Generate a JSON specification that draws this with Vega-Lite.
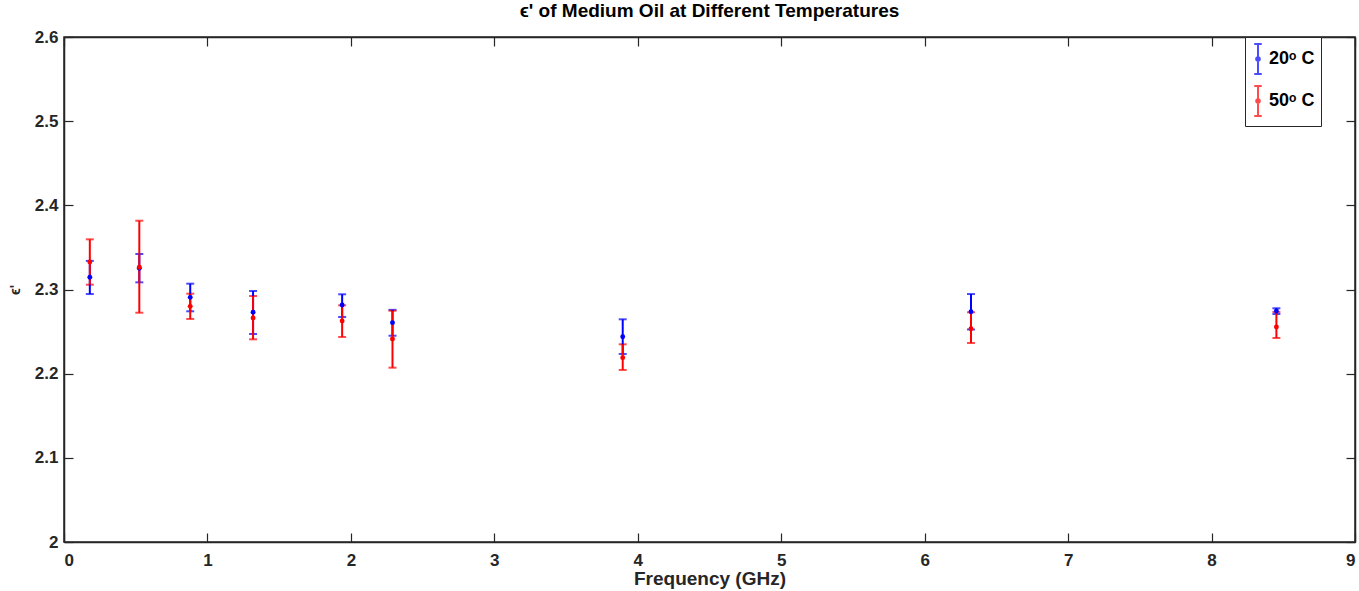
{
  "$schema": "https://vega.github.io/schema/vega-lite/v6.json",
  "width": 1291,
  "height": 505,
  "autosize": {"type": "none"},
  "padding": {"left": 64, "top": 37, "right": 4, "bottom": 49},
  "background": "white",
  "title": {
    "text": "ϵ' of Medium Oil at Different Temperatures",
    "font": "Liberation Sans",
    "fontSize": 19,
    "fontWeight": "bold",
    "color": "#000000",
    "offset": 7
  },
  "config": {
    "view": {"stroke": "#262626", "strokeWidth": 1.5},
    "axis": {
      "labelFont": "Liberation Sans",
      "labelFontSize": 17,
      "labelFontWeight": "bold",
      "labelColor": "#262626",
      "titleFont": "Liberation Sans",
      "titleFontSize": 19,
      "titleFontWeight": "bold",
      "titleColor": "#262626",
      "domainColor": "#262626",
      "domainWidth": 1.5,
      "tickColor": "#262626",
      "tickWidth": 1.2,
      "tickSize": -9,
      "grid": false
    }
  },
  "data": {
    "values": [
      {"freq": 0.18, "temp": "20", "mean": 2.3145, "lo": 2.2946, "hi": 2.334},
      {"freq": 0.525, "temp": "20", "mean": 2.3252, "lo": 2.3085, "hi": 2.3422},
      {"freq": 0.88, "temp": "20", "mean": 2.2907, "lo": 2.2741, "hi": 2.3069},
      {"freq": 1.318, "temp": "20", "mean": 2.2729, "lo": 2.2471, "hi": 2.2982},
      {"freq": 1.939, "temp": "20", "mean": 2.2816, "lo": 2.2673, "hi": 2.2943},
      {"freq": 2.29, "temp": "20", "mean": 2.2606, "lo": 2.2451, "hi": 2.2758},
      {"freq": 3.895, "temp": "20", "mean": 2.2439, "lo": 2.2234, "hi": 2.2646},
      {"freq": 6.323, "temp": "20", "mean": 2.2736, "lo": 2.2525, "hi": 2.2946},
      {"freq": 8.452, "temp": "20", "mean": 2.2744, "lo": 2.2709, "hi": 2.2777},
      {"freq": 0.18, "temp": "50", "mean": 2.3326, "lo": 2.3057, "hi": 2.3596},
      {"freq": 0.525, "temp": "50", "mean": 2.3264, "lo": 2.2724, "hi": 2.3817},
      {"freq": 0.88, "temp": "50", "mean": 2.28, "lo": 2.265, "hi": 2.295},
      {"freq": 1.318, "temp": "50", "mean": 2.2661, "lo": 2.2408, "hi": 2.2923},
      {"freq": 1.939, "temp": "50", "mean": 2.2626, "lo": 2.2436, "hi": 2.2812},
      {"freq": 2.29, "temp": "50", "mean": 2.2412, "lo": 2.2071, "hi": 2.2748},
      {"freq": 3.895, "temp": "50", "mean": 2.219, "lo": 2.2044, "hi": 2.2349},
      {"freq": 6.323, "temp": "50", "mean": 2.2534, "lo": 2.2364, "hi": 2.2729},
      {"freq": 8.452, "temp": "50", "mean": 2.2554, "lo": 2.2424, "hi": 2.2733}
    ]
  },
  "resolve": {"axis": {"x": "independent", "y": "independent"}},
  "layer": [
    {
      "mark": {"type": "errorbar", "ticks": {"size": 8, "thickness": 2}, "thickness": 2},
      "encoding": {
        "x": {"field": "freq", "type": "quantitative", "scale": {"domain": [0, 9]},
          "axis": {"values": [0,1,2,3,4,5,6,7,8,9], "title": "Frequency (GHz)", "labelPadding": 19, "titlePadding": 1}},
        "y": {"field": "lo", "type": "quantitative", "scale": {"domain": [2, 2.6]},
          "axis": {"values": [2,2.1,2.2,2.3,2.4,2.5,2.6], "format": "~g", "title": "ϵ'", "titleFontSize": 14, "titlePadding": 12, "labelPadding": 15}},
        "y2": {"field": "hi"},
        "color": {"field": "temp", "type": "nominal",
          "scale": {"domain": ["20", "50"], "range": ["#0000FF", "#FF0000"]}}
      }
    },
    {
      "mark": {"type": "point", "filled": true, "size": 24, "opacity": 1},
      "encoding": {
        "x": {"field": "freq", "type": "quantitative", "scale": {"domain": [0, 9]}, "axis": null},
        "y": {"field": "mean", "type": "quantitative", "scale": {"domain": [2, 2.6]}, "axis": null},
        "color": {"field": "temp", "type": "nominal",
          "scale": {"domain": ["20", "50"], "range": ["#0000FF", "#FF0000"]},
          "legend": {
            "title": null,
            "orient": "none",
            "legendX": 1181,
            "legendY": 0,
            "direction": "vertical",
            "labelExpr": "datum.value + 'ᵒ C'",
            "labelFont": "Liberation Sans",
            "labelFontSize": 18,
            "labelFontWeight": "bold",
            "labelColor": "#000000",
            "symbolType": "M0,-1V1M-0.25,-1H0.25M-0.25,1H0.25M0.12,0A0.12,0.12,0,1,1,-0.12,0A0.12,0.12,0,1,1,0.12,0",
            "symbolSize": 900,
            "symbolStrokeWidth": 2,
            "symbolOpacity": 1,
            "symbolOffset": -9,
            "rowPadding": 4,
            "padding": 6,
            "strokeColor": "#262626",
            "fillColor": "white",
            "labelOffset": -5
          }
        }
      }
    },
    {
      "mark": {"type": "point", "opacity": 0},
      "encoding": {
        "x": {"field": "freq", "type": "quantitative", "scale": {"domain": [0, 9]},
          "axis": {"orient": "top", "values": [0,1,2,3,4,5,6,7,8,9], "labels": false, "title": null}},
        "y": {"field": "mean", "type": "quantitative", "scale": {"domain": [2, 2.6]},
          "axis": {"orient": "right", "values": [2,2.1,2.2,2.3,2.4,2.5,2.6], "labels": false, "title": null}}
      }
    }
  ]
}
